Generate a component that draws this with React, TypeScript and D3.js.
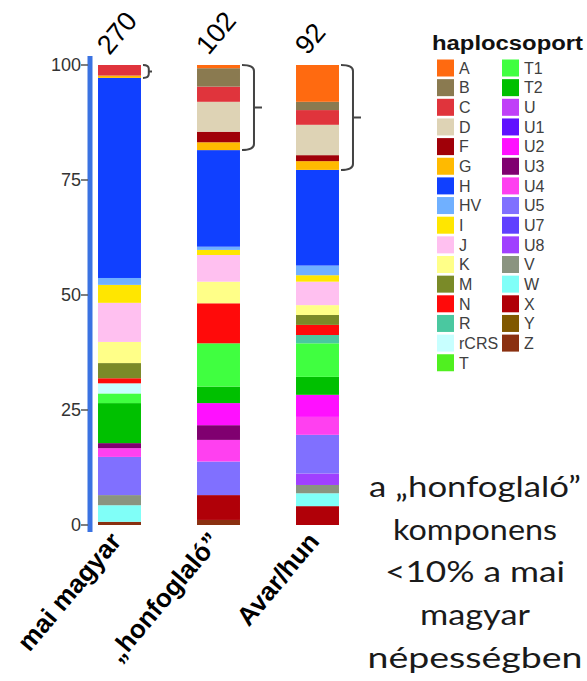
import React from "react";
import * as d3 from "d3";

const haplogroups = ["A","B","C","D","F","G","H","HV","I","J","K","M","N","R","rCRS","T","T1","T2","U","U1","U2","U3","U4","U5","U7","U8","V","W","X","Y","Z"];
const haploColors = ["#FF6A10","#8A7A50","#E0343C","#DED3B5","#A00008","#FFBA00","#1040FF","#70B0FF","#FFE600","#FFC0F0","#FFFF88","#7A8A28","#FF0A0A","#4AC8A0","#C8FFFF","#50F020","#40FF40","#00C000","#C040F8","#6010FF","#FF10FF","#800070","#FF40F0","#8070FF","#6040FF","#A040FF","#8A9480","#80FFF8","#B00008","#805800","#8A3010"];

const categories = ["mai magyar", "„honfoglaló”", "Avar/hun"];
const sampleSizes = ["270", "102", "92"];

// values in %, aligned with haplogroups
const maiMagyar = [0,0,2.3,0,0,0.5,43.5,1.5,3.9,8.5,4.6,3.3,1.1,0,2.2,0,2.1,8.7,0,0,0,1.1,1.9,8.3,0,0,2.2,3.6,0,0,0.7];
const honfoglalo = [0.7,4.0,3.3,6.5,2.3,1.7,21.0,0.7,1.1,5.8,4.7,0,8.7,0,0,0,9.4,3.6,0,0,4.8,3.2,4.7,7.3,0,0,0,0,5.4,0,1.1];
const avarHun = [8.0,1.8,3.2,6.6,1.3,1.9,20.8,2.1,1.4,5.1,2.15,2.15,2.2,1.8,0,0,7.3,3.9,0,0,4.8,0,3.9,8.4,0,2.5,1.8,2.8,4.1,0,0];

const yTicks = [0, 25, 50, 75, 100];
const legendTitle = "haplocsoport";
const noteLines = ["a „honfoglaló”", "komponens", "<10% a mai", "magyar", "népességben"];
const noteWidths = [212, 164, 180, 110, 215];

export default function App() {
  const W = 587, H = 681;
  const seriesVals = [maiMagyar, honfoglalo, avarHun];
  const rows = categories.map((c, i) => {
    const o: any = { cat: c };
    haplogroups.forEach((h, j) => (o[h] = seriesVals[i][j]));
    return o;
  });
  const stacked = d3.stack<any>().keys([...haplogroups].reverse())(rows);
  const x = d3.scaleBand<string>().domain(categories).range([70, 367]).paddingInner(0.566).paddingOuter(0.283);
  const y = d3.scaleLinear().domain([0, 100]).range([525, 65]);
  const color = d3.scaleOrdinal<string, string>().domain(haplogroups).range(haploColors);
  const bw = x.bandwidth();
  const hLayer = stacked.find((s) => s.key === "H")!;

  const col1 = 16;
  const rowH = 19.65;

  return (
    <svg width={W} height={H} style={{ position: "absolute", left: 0, top: 0, background: "#fff" }}>
      {/* bars */}
      {stacked.map((layer) =>
        layer.map((d, i) => {
          const h = y(d[0]) - y(d[1]);
          if (h <= 0) return null;
          return (
            <rect key={layer.key + i} x={x(categories[i])} y={y(d[1])} width={bw} height={h} fill={color(layer.key)} />
          );
        })
      )}
      {/* y axis */}
      <line x1={90} x2={90} y1={56} y2={532} stroke="#3a72e2" strokeWidth={5} />
      {yTicks.map((t) => (
        <g key={t}>
          <line x1={81} x2={88} y1={y(t)} y2={y(t)} stroke="#555" strokeWidth={1.5} />
          <text x={81} y={y(t)} dy="0.35em" textAnchor="end" fontFamily="Liberation Sans, Arial, sans-serif" fontSize={18} fill="#333">{t}</text>
        </g>
      ))}
      {/* brackets */}
      {categories.map((c, i) => {
        const yT = y(100);
        const yB = y(hLayer[i][1]);
        const hh = yB - yT;
        const x0 = (x(c) as number) + bw + 2;
        const w = Math.min(12, hh * 0.45);
        const x1 = x0 + w;
        const tip = Math.min(8, hh * 0.25);
        const r = Math.min(6, hh * 0.3);
        const yM = (yT + yB) / 2;
        const p = `M${x0},${yT} Q${x1},${yT} ${x1},${yT + r} L${x1},${yB - r} Q${x1},${yB} ${x0},${yB} M${x1},${yM} L${x1 + tip},${yM}`;
        return <path key={c} d={p} fill="none" stroke="#444" strokeWidth={2} />;
      })}
      {/* sample sizes */}
      {categories.map((c, i) => {
        const cx = (x(c) as number) + bw / 2;
        return (
          <text key={c} transform={`translate(${cx - 10},56) rotate(-50)`} fontFamily="Liberation Sans, Arial, sans-serif" fontSize={27} fill="#000">{sampleSizes[i]}</text>
        );
      })}
      {/* category labels */}
      {categories.map((c) => {
        const cx = (x(c) as number) + bw / 2;
        return (
          <text key={c} transform={`translate(${cx + 3},542) rotate(-50)`} textAnchor="end" fontFamily="Liberation Sans, Arial, sans-serif" fontWeight="bold" fontSize={26} fill="#000">{c}</text>
        );
      })}
      {/* legend */}
      <text x={432} y={50} fontFamily="Liberation Sans, Arial, sans-serif" fontWeight="bold" fontSize={20} fill="#111" textLength={151} lengthAdjust="spacingAndGlyphs">{legendTitle}</text>
      {haplogroups.map((h, i) => {
        const col = i < col1 ? 0 : 1;
        const r = col === 0 ? i : i - col1;
        const cy = 68 + r * rowH;
        const sx = col === 0 ? 437 : 502;
        return (
          <g key={h}>
            <rect x={sx} y={cy - 8.5} width={17} height={17} fill={color(h)} />
            <text x={sx + 22} y={cy} dy="0.36em" fontFamily="Liberation Sans, Arial, sans-serif" fontSize={16} fill="#404040">{h}</text>
          </g>
        );
      })}
      {/* note */}
      {noteLines.map((l, i) => (
        <text key={i} x={475} y={497 + i * 42.7} textAnchor="middle" fontFamily="Lato, Liberation Sans, sans-serif" fontSize={29} fill="#1a1a1a" textLength={noteWidths[i]} lengthAdjust="spacingAndGlyphs">{l}</text>
      ))}
    </svg>
  );
}
